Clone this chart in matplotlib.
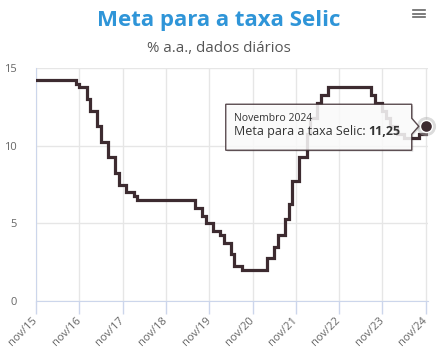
import pandas as pd
import matplotlib.pyplot as plt
import matplotlib.dates as mdates
from matplotlib.patches import Polygon

plt.rcParams['font.family'] = ['Open Sans', 'DejaVu Sans']

# Meta Selic (% a.a.), mês em que o valor muda
meses = ['2015-11', '2016-10', '2016-11', '2017-01', '2017-02', '2017-04', '2017-05',
         '2017-07', '2017-09', '2017-10', '2017-12', '2018-02', '2018-03', '2019-07',
         '2019-09', '2019-10', '2019-12', '2020-02', '2020-03', '2020-05', '2020-06',
         '2020-08', '2021-03', '2021-05', '2021-06', '2021-08', '2021-09', '2021-10',
         '2021-12', '2022-02', '2022-03', '2022-05', '2022-06', '2022-08', '2023-08',
         '2023-09', '2023-11', '2023-12', '2024-01', '2024-03', '2024-05', '2024-09',
         '2024-11']
meta = [14.25, 14.0, 13.75, 13.0, 12.25, 11.25, 10.25,
        9.25, 8.25, 7.5, 7.0, 6.75, 6.5, 6.0,
        5.5, 5.0, 4.5, 4.25, 3.75, 3.0, 2.25,
        2.0, 2.75, 3.5, 4.25, 5.25, 6.25, 7.75,
        9.25, 10.75, 11.75, 12.75, 13.25, 13.75, 13.25,
        12.75, 12.25, 11.75, 11.25, 10.75, 10.5, 10.75,
        11.25]
rotulos_x = ['nov/15', 'nov/16', 'nov/17', 'nov/18', 'nov/19',
             'nov/20', 'nov/21', 'nov/22', 'nov/23', 'nov/24']
ticks_y = [0, 5, 10, 15]

df = pd.DataFrame({'data': pd.to_datetime(meses), 'meta': meta})
ticks_x = pd.to_datetime(['20%s-11-01' % r[-2:] for r in rotulos_x])

W, H = 448, 357
fig = plt.figure(figsize=(W / 100, H / 100), dpi=100)
ax = fig.add_axes([36 / W, 1 - 301 / H, (428 - 36) / W, (301 - 68) / H])

cor_linha = '#3d2b30'
ax.plot(df['data'], df['meta'], drawstyle='steps-post', color=cor_linha,
        lw=2.3, solid_joinstyle='miter', zorder=3)

ax.set_ylim(0, 15)
ax.set_xlim(pd.Timestamp('2015-11-01'), pd.Timestamp('2024-11-20'))
ax.set_yticks(ticks_y)
ax.set_xticks(ticks_x)
ax.set_xticklabels(rotulos_x, rotation=45, ha='right', va='center',
                   rotation_mode='anchor')
ax.tick_params(axis='y', length=0, pad=14, labelsize=8, labelcolor='#666666')
ax.tick_params(axis='x', length=9, width=1, color='#ccd6eb', pad=4,
               labelsize=8, labelcolor='#666666')
ax.grid(True, color='#e6e6e6', lw=1)
ax.set_axisbelow(True)
for s in ['top', 'right']:
    ax.spines[s].set_visible(False)
ax.spines['left'].set_color('#ccd6eb')
ax.spines['bottom'].set_color('#ccd6eb')

# ponto destacado (último mês)
ult_x = df['data'].iloc[-1]
ult_y = df['meta'].iloc[-1]
ax.scatter([ult_x], [ult_y], s=190, color='#b0b0b0', alpha=0.45, lw=0,
           zorder=4, clip_on=False)
ax.scatter([ult_x], [ult_y], s=75, color=cor_linha, edgecolor='white', lw=1,
           zorder=5, clip_on=False)

# tooltip
fig.canvas.draw()
px, py = ax.transData.transform((mdates.date2num(ult_x), ult_y))
direita = px - 14
esquerda = direita - 186
topo = py + 22
base = py - 24
pts = [(esquerda, base), (direita, base), (direita, py - 8), (px - 7, py),
       (direita, py + 8), (direita, topo), (esquerda, topo)]
sombra = [(x + 1.5, y - 1.5) for x, y in pts]
fig.patches.append(Polygon([(x / W, y / H) for x, y in sombra], closed=True,
                           transform=fig.transFigure, facecolor='#000000',
                           alpha=0.12, lw=0, zorder=6))
fig.patches.append(Polygon([(x / W, y / H) for x, y in pts], closed=True,
                           transform=fig.transFigure, facecolor='white',
                           alpha=0.85, edgecolor='#3d2b30', lw=1, zorder=7))
fig.text((esquerda + 8) / W, (py + 5) / H, 'Novembro 2024', fontsize=7.5,
         color='#333333', zorder=8)
t = fig.text((esquerda + 8) / W, (py - 9) / H, 'Meta para a taxa Selic: ',
             fontsize=9, color='#333333', zorder=8)
fig.canvas.draw()
bb = t.get_window_extent()
fig.text(bb.x1 / W, (py - 9) / H, '11,25', fontsize=9, fontweight='bold',
         color='#333333', zorder=8)

# títulos
fig.text(219 / W, 1 - 26 / H, 'Meta para a taxa Selic', ha='center',
         va='baseline', fontsize=16, fontweight='bold', color='#2f95d8')
fig.text(219 / W, 1 - 52 / H, '% a.a., dados diários', ha='center',
         va='baseline', fontsize=10.8, color='#555555')

# menu
for yy in [10, 13.5, 17]:
    fig.add_artist(plt.Line2D([413 / W, 425 / W], [1 - yy / H, 1 - yy / H],
                              color='#666666', lw=1.2))

fig.savefig('out.png', dpi=100)
